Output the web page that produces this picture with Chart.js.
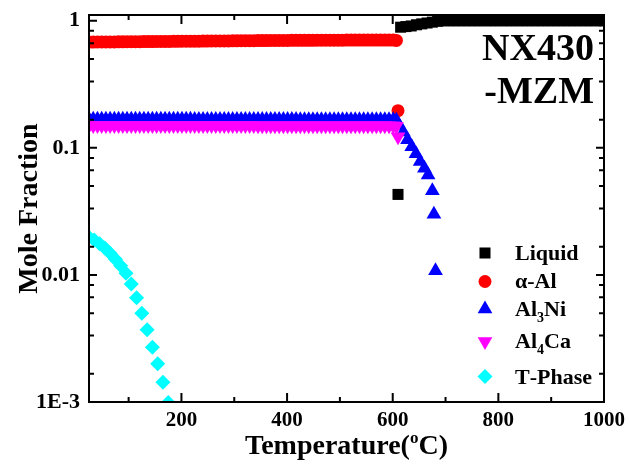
<!DOCTYPE html>
<html>
<head>
<meta charset="utf-8">
<script src="https://cdn.jsdelivr.net/npm/chart.js@4.4.0/dist/chart.umd.min.js"></script>
<style>
html,body{margin:0;padding:0;background:#ffffff;}
#wrap{width:630px;height:465px;}
</style>
</head>
<body>
<div id="wrap"><canvas id="c" width="630" height="465"></canvas></div>
<script>
// ---------- data ----------
const seriesNames = ['Liquid', 'α-Al', 'Al₃Ni', 'Al₄Ca', 'T-Phase'];

const tempSolid = [25,33,41,49,57,65,73,81,89,97,
  105,113,121,129,137,145,153,161,169,177,
  185,193,201,209,217,225,233,241,249,257,
  265,273,281,289,297,305,313,321,329,337,
  345,353,361,369,377,385,393,401,409,417,
  425,433,441,449,457,465,473,481,489,497,
  505,513,521,529,537,545,553,561,569,577,
  585,593,601];

const alphaAl = [0.680,0.680,0.681,0.681,0.682,0.682,0.682,0.683,0.683,0.684,
  0.684,0.685,0.685,0.686,0.686,0.686,0.687,0.687,0.688,0.688,
  0.689,0.689,0.690,0.690,0.690,0.691,0.691,0.692,0.692,0.693,
  0.693,0.694,0.694,0.694,0.695,0.695,0.696,0.696,0.697,0.697,
  0.698,0.698,0.698,0.699,0.699,0.700,0.700,0.700,0.701,0.701,
  0.701,0.702,0.702,0.702,0.703,0.703,0.703,0.704,0.704,0.704,
  0.704,0.705,0.705,0.705,0.705,0.705,0.705,0.705,0.705,0.705,
  0.705,0.705,0.705];
const alphaAlMeltT = [607, 610];
const alphaAlMelt = [0.700, 0.196];

const al3Ni = [0.168,0.168,0.168,0.168,0.168,0.168,0.168,0.168,0.168,0.168,
  0.168,0.168,0.168,0.168,0.168,0.168,0.168,0.168,0.168,0.168,
  0.168,0.168,0.168,0.168,0.168,0.167,0.167,0.167,0.167,0.167,
  0.167,0.167,0.167,0.167,0.167,0.167,0.167,0.167,0.167,0.167,
  0.167,0.167,0.167,0.167,0.167,0.167,0.167,0.167,0.167,0.167,
  0.166,0.166,0.166,0.166,0.166,0.166,0.166,0.166,0.166,0.166,
  0.166,0.166,0.166,0.166,0.166,0.166,0.166,0.166,0.166,0.166,
  0.166,0.166,0.166];
const al3NiMeltT = [607, 612, 620, 628, 636, 644, 652, 660, 667, 675, 678, 681];
const al3NiMelt = [0.165, 0.150, 0.133, 0.116, 0.102, 0.090, 0.078, 0.069, 0.061, 0.046, 0.030, 0.0108];

const al4Ca = [0.150,0.150,0.150,0.150,0.150,0.150,0.150,0.150,0.150,0.150,
  0.150,0.150,0.150,0.150,0.150,0.150,0.150,0.150,0.150,0.150,
  0.150,0.150,0.150,0.150,0.150,0.150,0.150,0.150,0.150,0.150,
  0.150,0.150,0.150,0.150,0.150,0.150,0.150,0.150,0.150,0.150,
  0.149,0.149,0.149,0.149,0.149,0.149,0.149,0.149,0.149,0.149,
  0.149,0.149,0.149,0.149,0.149,0.149,0.149,0.149,0.149,0.149,
  0.149,0.149,0.149,0.149,0.149,0.149,0.149,0.149,0.149,0.149,
  0.149,0.149,0.149];
const al4CaMeltT = [607, 610];
const al4CaMelt = [0.148, 0.122];

const liquidT = [610,615,625,635,645,655,665,675,685,
  695,705,715,725,735,745,755,765,775,785,795,805,815,825,835,845,855,865,875,885,895,
  905,915,925,935,945,955,965,975,985,995,1000];
const liquid = [0.043,0.89,0.90,0.91,0.93,0.945,0.96,0.975,0.99,
  1,1,1,1,1,1,1,1,1,1,1,1,1,1,1,1,1,1,1,1,1,
  1,1,1,1,1,1,1,1,1,1,1];

const tPhaseT = [25,35,45,55,65,75,85,95,105,115,125,135,145,155,165,175];
const tPhase = [0.0198,0.0188,0.0176,0.0163,0.0148,0.0133,0.0118,0.0103,0.0085,0.0066,
  0.0050,0.0037,0.0027,0.0020,0.00143,0.00099];

const xMajorTicks = [200, 400, 600, 800, 1000];
const xMinorTicks = [100, 300, 500, 700, 900];
const yMajorTicks = [0.001, 0.01, 0.1, 1];
const yTickLabels = ['1E-3', '0.01', '0.1', '1'];
const yMinorSteps = [1.667, 3.333, 5, 6.667, 8.333];

// ---------- build ----------
function pts(xs, ys) { return xs.map((x, i) => ({ x: x, y: ys[i] })); }

const SERIF = "'Liberation Serif', 'Times New Roman', serif";

const datasets = [
  { label: seriesNames[0], data: pts(liquidT, liquid), pointStyle: 'rect', pointRadius: 7.8,
    pointBackgroundColor: '#000000', order: 5 },
  { label: seriesNames[1], data: pts(tempSolid.concat(alphaAlMeltT), alphaAl.concat(alphaAlMelt)),
    pointStyle: 'circle', pointRadius: 6.5, pointBackgroundColor: '#ff0000', order: 4 },
  { label: seriesNames[2], data: pts(tempSolid.concat(al3NiMeltT), al3Ni.concat(al3NiMelt)),
    pointStyle: 'triangle', pointRadius: 8.5, pointBackgroundColor: '#0000ff', order: 3 },
  { label: seriesNames[3], data: pts(tempSolid.concat(al4CaMeltT), al4Ca.concat(al4CaMelt)),
    pointStyle: 'triangle', pointRotation: 180, pointRadius: 8.5, pointBackgroundColor: '#ff00ff', order: 2 },
  { label: seriesNames[4], data: pts(tPhaseT, tPhase), pointStyle: 'rectRot', pointRadius: 7.5,
    pointBackgroundColor: '#00ffff', order: 1 }
].map(d => Object.assign({ showLine: false, pointBorderWidth: 0, borderWidth: 0,
  pointBorderColor: d.pointBackgroundColor, pointHoverRadius: d.pointRadius, clip: 0 }, d));

function drawMarker(ctx, style, r, rot, x, y) {
  if (Chart.helpers && Chart.helpers.drawPoint) {
    Chart.helpers.drawPoint(ctx, { pointStyle: style, radius: r, rotation: rot, borderWidth: 0 }, x, y);
    return;
  }
  ctx.beginPath();
  if (style === 'circle') ctx.arc(x, y, r, 0, Math.PI * 2);
  else if (style === 'rect') { const s = r * Math.SQRT1_2; ctx.rect(x - s, y - s, 2 * s, 2 * s); }
  else if (style === 'rectRot') { ctx.moveTo(x - r, y); ctx.lineTo(x, y - r); ctx.lineTo(x + r, y); ctx.lineTo(x, y + r); ctx.closePath(); }
  else if (style === 'triangle') {
    let a = (rot || 0) * Math.PI / 180;
    for (let k = 0; k < 3; k++) {
      const px = x + Math.sin(a) * r, py = y - Math.cos(a) * r;
      if (k === 0) ctx.moveTo(px, py); else ctx.lineTo(px, py);
      a += 2 * Math.PI / 3;
    }
    ctx.closePath();
  }
  ctx.fill();
}

// draw text with unicode subscript digits lowered & smaller
const SUBS = '₀₁₂₃₄₅₆₇₈₉';
function drawRich(ctx, text, x, y, size) {
  let cx = x;
  for (const ch of text) {
    const si = SUBS.indexOf(ch);
    if (si >= 0) {
      ctx.font = 'bold ' + Math.round(size * 0.62) + 'px ' + SERIF;
      ctx.fillText(String(si), cx, y + size * 0.28);
      cx += ctx.measureText(String(si)).width;
    } else {
      ctx.font = 'bold ' + size + 'px ' + SERIF;
      ctx.fillText(ch, cx, y);
      cx += ctx.measureText(ch).width;
    }
  }
}

const decor = {
  id: 'decor',
  afterDatasetsDraw(chart) {
    const ctx = chart.ctx, a = chart.chartArea;
    const xs = chart.scales.x, ys = chart.scales.y;
    ctx.save();
    ctx.strokeStyle = '#000'; ctx.fillStyle = '#000';
    ctx.lineWidth = 2;
    ctx.strokeRect(a.left, a.top, a.right - a.left, a.bottom - a.top);
    ctx.beginPath();
    const xt = (v, len) => {
      const p = xs.getPixelForValue(v);
      ctx.moveTo(p, a.bottom); ctx.lineTo(p, a.bottom - len);
      ctx.moveTo(p, a.top); ctx.lineTo(p, a.top + len);
    };
    const yt = (v, len) => {
      const p = ys.getPixelForValue(v);
      ctx.moveTo(a.left, p); ctx.lineTo(a.left + len, p);
      ctx.moveTo(a.right, p); ctx.lineTo(a.right - len, p);
    };
    xMajorTicks.forEach(v => { if (v < 1000) xt(v, 9); });
    xMinorTicks.forEach(v => xt(v, 5));
    yMajorTicks.forEach(v => { if (v > 0.001) yt(v, 8); });
    yMajorTicks.forEach(d => yMinorSteps.forEach(m => { const v = d * m; if (v < ys.max) yt(v, 5); }));
    ctx.stroke();

    // axis titles
    ctx.textBaseline = 'alphabetic';
    ctx.font = 'bold 28px ' + SERIF;
    ctx.save();
    ctx.translate(37, (a.top + a.bottom) / 2);
    ctx.rotate(-Math.PI / 2);
    ctx.textAlign = 'center';
    ctx.fillText('Mole Fraction', 0, 0);
    ctx.restore();

    const p1 = 'Temperature(', p2 = 'o', p3 = 'C)';
    ctx.font = 'bold 28px ' + SERIF;
    const w1 = ctx.measureText(p1).width, w3 = ctx.measureText(p3).width;
    ctx.font = 'bold 17px ' + SERIF;
    const w2 = ctx.measureText(p2).width;
    let tx = (a.left + a.right) / 2 - (w1 + w2 + w3) / 2;
    const ty = 454;
    ctx.textAlign = 'left';
    ctx.font = 'bold 28px ' + SERIF; ctx.fillText(p1, tx, ty); tx += w1;
    ctx.font = 'bold 17px ' + SERIF; ctx.fillText(p2, tx, ty - 11); tx += w2;
    ctx.font = 'bold 28px ' + SERIF; ctx.fillText(p3, tx, ty);

    // sample name
    ctx.textAlign = 'right';
    ctx.font = 'bold 38px ' + SERIF;
    ctx.fillText('NX430', 594, 60);
    ctx.fillText('-MZM', 594, 103);

    // legend
    const rowsSym = [253, 281.5, 309, 341.5, 376.5];
    const rowsTxt = [259.5, 288, 315.5, 348, 384];
    ctx.textAlign = 'left';
    chart.data.datasets.forEach((d, i) => {
      ctx.fillStyle = d.pointBackgroundColor;
      drawMarker(ctx, d.pointStyle, d.pointRadius, d.pointRotation || 0, 485, rowsSym[i]);
      ctx.fillStyle = '#000';
      drawRich(ctx, d.label, 515, rowsTxt[i], 22);
    });
    ctx.restore();
  }
};

new Chart(document.getElementById('c'), {
  type: 'scatter',
  data: { datasets: datasets },
  plugins: [decor],
  options: {
    responsive: false, animation: false, devicePixelRatio: 1, events: [],
    layout: { padding: { left: 0, top: 15, right: 26, bottom: 0 } },
    plugins: { legend: { display: false }, tooltip: { enabled: false }, title: { display: false } },
    scales: {
      x: {
        type: 'linear', position: 'bottom', min: 25, max: 1000,
        afterBuildTicks: s => { s.ticks = xMajorTicks.map(v => ({ value: v })); },
        afterFit: s => { s.height = 63; s.paddingLeft = 0; s.paddingRight = 0; },
        grid: { display: false, drawTicks: false }, border: { display: false },
        ticks: { padding: 6, color: '#000', autoSkip: false, maxRotation: 0, minRotation: 0,
          font: { family: SERIF, size: 21, weight: 'bold' }, callback: v => String(v) }
      },
      y: {
        type: 'logarithmic', position: 'left', min: 0.001, max: 1.11,
        afterBuildTicks: s => { s.ticks = yMajorTicks.map(v => ({ value: v })); },
        afterFit: s => { s.width = 89; s.paddingTop = 0; s.paddingBottom = 0; },
        grid: { display: false, drawTicks: false }, border: { display: false },
        ticks: { padding: 9, color: '#000', autoSkip: false,
          font: { family: SERIF, size: 22, weight: 'bold' },
          callback: v => { const i = yMajorTicks.findIndex(t => Math.abs(t - v) / t < 1e-6); return i >= 0 ? yTickLabels[i] : ''; } }
      }
    }
  }
});
</script>
</body>
</html>
